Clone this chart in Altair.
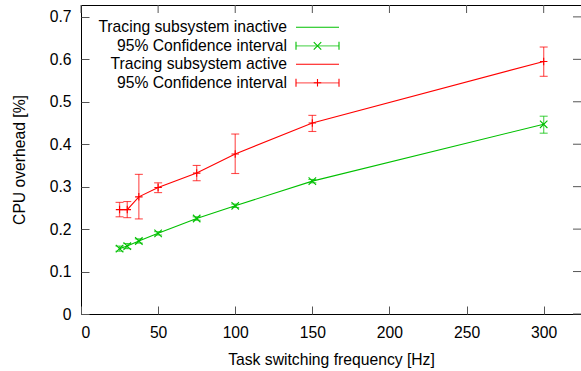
import altair as alt
import pandas as pd

# Measured CPU overhead versus task switching frequency
freq = [25, 30, 37.5, 50, 75, 100, 150, 300]

inactive_mean = [0.154, 0.160, 0.172, 0.190, 0.225, 0.255, 0.313, 0.447]
inactive_lo = [0.148, 0.154, 0.167, 0.186, 0.221, 0.251, 0.309, 0.426]
inactive_hi = [0.160, 0.166, 0.177, 0.194, 0.229, 0.259, 0.317, 0.466]

active_mean = [0.246, 0.246, 0.276, 0.298, 0.332, 0.377, 0.450, 0.595]
active_lo = [0.229, 0.227, 0.224, 0.286, 0.314, 0.331, 0.430, 0.560]
active_hi = [0.263, 0.265, 0.329, 0.309, 0.350, 0.424, 0.468, 0.629]

x_ticks = [0, 50, 100, 150, 200, 250, 300]
y_ticks = [0, 0.1, 0.2, 0.3, 0.4, 0.5, 0.6, 0.7]

legend_labels = [
    "Tracing subsystem inactive",
    "95% Confidence interval",
    "Tracing subsystem active",
    "95% Confidence interval",
]

GREEN = "#00c000"
RED = "#ff0000"
FONT = "Liberation Sans"
FS = 15.7
TICK = 8
TICK_COLOR = "#555"

X_PATH = "M-1,-1L1,1M1,-1L-1,1"
PLUS_PATH = "M-1,0L1,0M0,-1L0,1"

W, H = 500, 309

df = pd.DataFrame({
    "freq": freq * 2,
    "mean": inactive_mean + active_mean,
    "lo": inactive_lo + active_lo,
    "hi": inactive_hi + active_hi,
    "series": ["inactive"] * len(freq) + ["active"] * len(freq),
})

xs = alt.Scale(domain=[0, 324.2], nice=False, zero=False)
ys = alt.Scale(domain=[0, 0.728], nice=False)

x_axis = alt.Axis(
    title="Task switching frequency [Hz]", values=x_ticks, format="d",
    orient="bottom", offset=-TICK, tickSize=TICK, domain=False, grid=False,
    labelPadding=11, titlePadding=13,
)
y_axis = alt.Axis(
    title="CPU overhead [%]", values=y_ticks, format="~g",
    orient="left", offset=-TICK, tickSize=TICK, domain=False, grid=False,
    labelPadding=10, titlePadding=22,
)


def X(field):
    return alt.X(field, type="quantitative", scale=xs, axis=x_axis)


def Y(field):
    return alt.Y(field, type="quantitative", scale=ys, axis=y_axis)


base = alt.Chart(df)


def series_layers(name, color, shape):
    sub = base.transform_filter(alt.datum.series == name)
    line = sub.mark_line(color=color, strokeWidth=1.1).encode(
        x=X("freq"), y=Y("mean"))
    stem = sub.mark_rule(color=color, strokeWidth=1.3, opacity=0.6).encode(
        x=X("freq"), y=Y("lo"), y2="hi:Q")
    cap_lo = sub.mark_tick(color=color, orient="horizontal", size=8,
                           thickness=1.1).encode(x=X("freq"), y=Y("lo"))
    cap_hi = sub.mark_tick(color=color, orient="horizontal", size=8,
                           thickness=1.1).encode(x=X("freq"), y=Y("hi"))
    pts = sub.mark_point(shape=shape, color=color, size=56, filled=False,
                         strokeWidth=1.1, opacity=1).encode(
        x=X("freq"), y=Y("mean"))
    return [line, stem, cap_lo, cap_hi, pts]


# mirrored inward ticks along the top and right edges of the frame
top_ticks = alt.Chart(pd.DataFrame({"t": x_ticks})).mark_rule(
    color=TICK_COLOR, strokeWidth=1).encode(
    x=X("t"), y=alt.value(0), y2=alt.value(TICK))
right_ticks = alt.Chart(pd.DataFrame({"t": y_ticks})).mark_rule(
    color=TICK_COLOR, strokeWidth=1).encode(
    y=Y("t"), x=alt.value(W - TICK), x2=alt.value(W))

# key placed inside the plot, top-left, labels right-aligned before samples
row_y = [22.3 + 18.5 * i for i in range(4)]
TXT_X, L0, L1 = 206, 215, 258
LM = (L0 + L1) / 2

legend_layers = []
for i, (lab, col) in enumerate(zip(legend_labels, [GREEN, GREEN, RED, RED])):
    ry = row_y[i]
    c = alt.Chart(pd.DataFrame({"label": [lab]}))
    legend_layers.append(
        c.mark_text(align="right", baseline="middle", font=FONT, fontSize=FS,
                    color="#000").encode(
            x=alt.value(TXT_X), y=alt.value(ry), text="label:N")
    )
    err = i % 2 == 1
    legend_layers.append(
        c.mark_rule(color=col, strokeWidth=1.3 if err else 1.1,
                    opacity=0.6 if err else 1).encode(
            x=alt.value(L0), x2=alt.value(L1), y=alt.value(ry))
    )
    if err:
        for xe in (L0, L1):
            legend_layers.append(
                c.mark_rule(color=col, strokeWidth=1.1).encode(
                    x=alt.value(xe), y=alt.value(ry - 4), y2=alt.value(ry + 4))
            )
        legend_layers.append(
            c.mark_point(shape=X_PATH if i == 1 else PLUS_PATH, color=col,
                         size=56, filled=False, strokeWidth=1.1, opacity=1)
            .encode(x=alt.value(LM), y=alt.value(ry))
        )

chart = alt.layer(
    top_ticks,
    right_ticks,
    *series_layers("inactive", GREEN, X_PATH),
    *series_layers("active", RED, PLUS_PATH),
    *legend_layers,
).properties(
    width=W, height=H,
    autosize=alt.AutoSizeParams(type="none"),
    padding={"left": 81, "top": 5, "right": 0, "bottom": 57},
    background="white",
).configure_view(
    stroke="#000", strokeWidth=1
).configure_axis(
    labelFont=FONT, titleFont=FONT, labelFontSize=FS, titleFontSize=FS,
    labelColor="#000", titleColor="#000", titleFontWeight="normal",
    tickColor=TICK_COLOR, tickWidth=1,
)

chart.save("out.html", embed_options={"renderer": "svg", "actions": False})
